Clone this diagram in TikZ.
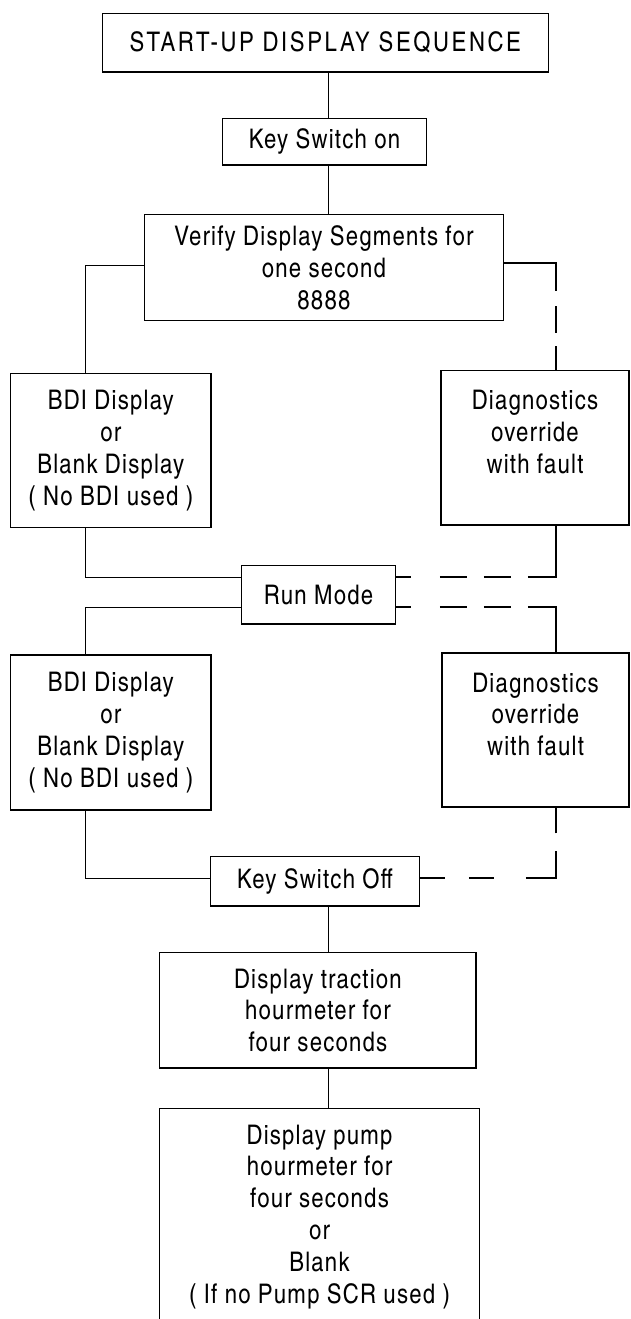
\documentclass[tikz,border=0pt]{standalone}
\usepackage{fontspec}
\setmainfont{texgyreheroscn-regular.otf}[LetterSpace=4.5]
\begin{document}
\begin{tikzpicture}[x=1pt,y=-1pt,
    box/.style={draw,line width=1.3pt,inner sep=0pt,align=center,font=\fontsize{27}{31.8}\selectfont},
    link/.style={line width=1pt},
    dashlink/.style={line width=2pt}]
    \useasboundingbox (0,0) rectangle (631,1319);
    \clip (0,0) rectangle (631,1319);
    \coordinate (spine) at (328,0);
    \coordinate (lcol) at (85,0);
    \coordinate (rcol) at (556,0);
    \node[box,minimum width=446pt,minimum height=58.3pt] (title) at (325.3,42.8) {\addfontfeature{LetterSpace=9.5}START-UP DISPLAY SEQUENCE};
    \node[box,minimum width=204.4pt,minimum height=46.7pt] (keyon) at (324.5,141.7) {Key Switch on};
    \node[box,minimum width=359pt,minimum height=106pt] (verify) at (323.9,267.8) {Verify Display Segments for\\one second\\8888};
    \node[box,minimum width=200.3pt,minimum height=153.6pt] (bdi1) at (110.8,450.5) {BDI Display\\or\\Blank Display\\( No BDI used )};
    \node[box,minimum width=188pt,minimum height=154.5pt] (diag1) at (535,447.8) {Diagnostics\\override\\with fault\\~};
    \node[box,minimum width=153.6pt,minimum height=58.3pt] (run) at (318.5,594.8) {Run Mode};
    \node[box,minimum width=200.2pt,minimum height=155pt] (bdi2) at (110.8,732.5) {BDI Display\\or\\Blank Display\\( No BDI used )};
    \node[box,minimum width=187pt,minimum height=154pt] (diag2) at (535.5,730) {Diagnostics\\override\\with fault\\~};
    \node[box,minimum width=208.8pt,minimum height=49.3pt] (keyoff) at (314.9,881.3) {Key Switch Off};
    \node[box,minimum width=316.2pt,minimum height=115.3pt] (traction) at (317.9,1010.3) {Display traction\\hourmeter for\\four seconds};
    \node[box,minimum width=319.5pt,minimum height=216.7pt] (pump) at (319.5,1216.7) {Display pump\\hourmeter for\\four seconds\\or\\Blank\\( If no Pump SCR used )};
    \draw[link] (title.south -| spine) -- (keyon.north -| spine);
    \draw[link] (keyon.south -| spine) -- (verify.north -| spine);
    \draw[link] ([yshift=2pt]verify.west) -| (bdi1.north -| lcol);
    \draw[dashlink,dash pattern=on 80pt off 15pt on 27pt off 13pt on 27pt] ([yshift=4.5pt]verify.east) -| (diag1.north -| rcol);
    \draw[link] (bdi1.south -| lcol) |- ([yshift=17.5pt]run.west);
    \draw[link] ([yshift=-12.4pt]run.west) -| (bdi2.north -| lcol);
    \draw[dashlink,dash pattern=on 15pt off 29pt on 27pt off 17pt on 27pt off 17pt on 90pt] ([yshift=17.5pt]run.east) -| (diag1.south -| rcol);
    \draw[dashlink,dash pattern=on 15pt off 29pt on 27pt off 17pt on 27pt off 17pt on 90pt] ([yshift=-12.4pt]run.east) -| (diag2.north -| rcol);
    \draw[link] (bdi2.south -| lcol) |- ([yshift=3pt]keyoff.west);
    \draw[dashlink,dash pattern=on 25pt off 24pt on 25pt off 32pt on 57pt off 18pt on 25pt] ([yshift=3pt]keyoff.east) -| (diag2.south -| rcol);
    \draw[link] (keyoff.south -| spine) -- (traction.north -| spine);
    \draw[link] (traction.south -| spine) -- (pump.north -| spine);
\end{tikzpicture}
\end{document}
